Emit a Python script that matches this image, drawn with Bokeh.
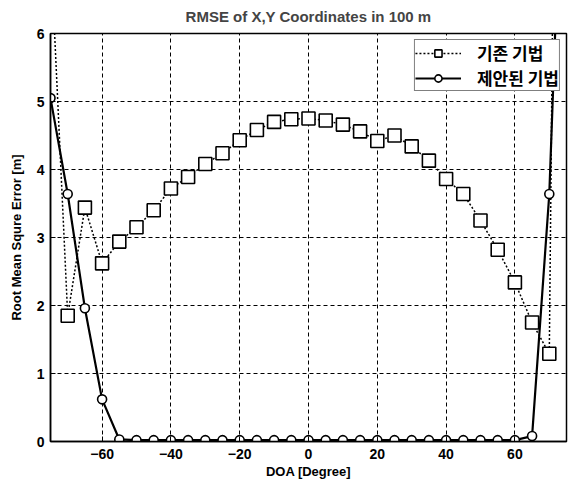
from bokeh.plotting import figure
from bokeh.models import Range1d, FixedTicker, Legend, LegendItem
from bokeh.embed import file_html
from bokeh.resources import INLINE

# DOA angles [degree]
doa = [-75, -70, -65, -60, -55, -50, -45, -40, -35, -30, -25, -20, -15, -10, -5,
       0, 5, 10, 15, 20, 25, 30, 35, 40, 45, 50, 55, 60, 65, 70, 75]
# 기존 기법 (conventional method) RMSE [m]
rmse_old = [7.3, 1.85, 3.44, 2.62, 2.94, 3.15, 3.40, 3.72, 3.89, 4.08, 4.24, 4.43, 4.58, 4.70, 4.74,
            4.75, 4.72, 4.66, 4.56, 4.42, 4.50, 4.34, 4.13, 3.86, 3.64, 3.25, 2.82, 2.34, 1.75, 1.29, 27.6]
# 제안된 기법 (proposed method) RMSE [m]
rmse_new = [5.05, 3.64, 1.96, 0.62, 0.03, 0.02, 0.02, 0.02, 0.02, 0.02, 0.02, 0.02, 0.02, 0.02, 0.02,
            0.02, 0.02, 0.02, 0.02, 0.02, 0.02, 0.02, 0.02, 0.02, 0.02, 0.02, 0.02, 0.02, 0.08, 3.64, 10.6]

x_ticks = [-60, -40, -20, 0, 20, 40, 60]
y_ticks = [0, 1, 2, 3, 4, 5, 6]

FONT = "Liberation Sans"

p = figure(width=570, height=487, output_backend="svg", toolbar_location=None,
           x_range=Range1d(-75, 75), y_range=Range1d(0, 6),
           min_border_left=50, min_border_right=4, min_border_top=33, min_border_bottom=46,
           title="RMSE of X,Y Coordinates in 100 m")

p.title.text_font = FONT
p.title.text_font_size = "15px"
p.title.text_font_style = "bold"
p.title.align = "center"
p.title.vertical_align = "top"
p.title.standoff = 13

p.background_fill_color = "white"
p.border_fill_color = "white"
p.outline_line_color = "black"
p.outline_line_width = 1.5

for ax in (p.xaxis[0], p.yaxis[0]):
    ax.axis_line_color = "black"
    ax.axis_line_width = 1.5
    ax.major_tick_in = 5
    ax.major_tick_out = 0
    ax.minor_tick_line_color = None
    ax.major_tick_line_color = "black"
    ax.major_label_text_font = FONT
    ax.major_label_text_font_size = "14px"
    ax.major_label_text_font_style = "bold"
    ax.major_label_text_color = "black"
    ax.axis_label_text_font = FONT
    ax.axis_label_text_font_size = "13px"
    ax.axis_label_text_font_style = "bold"
    ax.axis_label_text_color = "black"

p.xaxis.ticker = FixedTicker(ticks=x_ticks)
p.yaxis.ticker = FixedTicker(ticks=y_ticks)
p.xaxis.axis_label = "DOA [Degree]"
p.yaxis.axis_label = "Root Mean Squre Error [m]"
p.xaxis.major_label_standoff = 7
p.xaxis.axis_label_standoff = 2
p.yaxis.major_label_standoff = 6
p.yaxis.axis_label_standoff = 10

p.xgrid.ticker = FixedTicker(ticks=x_ticks)
p.ygrid.ticker = FixedTicker(ticks=[1, 2, 3, 4, 5])
for g in (p.xgrid[0], p.ygrid[0]):
    g.grid_line_color = "black"
    g.grid_line_dash = "4 3"
    g.grid_line_width = 1

l1 = p.line(doa, rmse_old, line_color="black", line_width=1.5, line_dash="2 2")
m1 = p.scatter(doa, rmse_old, marker="square", size=13, fill_color="white",
               line_color="black", line_width=1.6)
l2 = p.line(doa, rmse_new, line_color="black", line_width=2.2)
m2 = p.scatter(doa, rmse_new, marker="circle", size=9, fill_color="white",
               line_color="black", line_width=1.6)

legend = Legend(items=[LegendItem(label="기존 기법", renderers=[l1, m1]),
                       LegendItem(label="제안된 기법", renderers=[l2, m2])],
                location="top_right")
legend.label_text_font = "Noto Sans CJK KR"
legend.label_text_font_size = "17px"
legend.label_text_font_style = "bold"
legend.label_text_color = "black"
legend.border_line_color = "black"
legend.border_line_width = 1.5
legend.background_fill_alpha = 1
legend.padding = 0
legend.spacing = 0
legend.margin = 6
legend.glyph_width = 46
legend.glyph_height = 18
legend.label_height = 18
legend.label_standoff = 16
p.add_layout(legend)

open("out.html", "w").write(file_html(p, INLINE))
